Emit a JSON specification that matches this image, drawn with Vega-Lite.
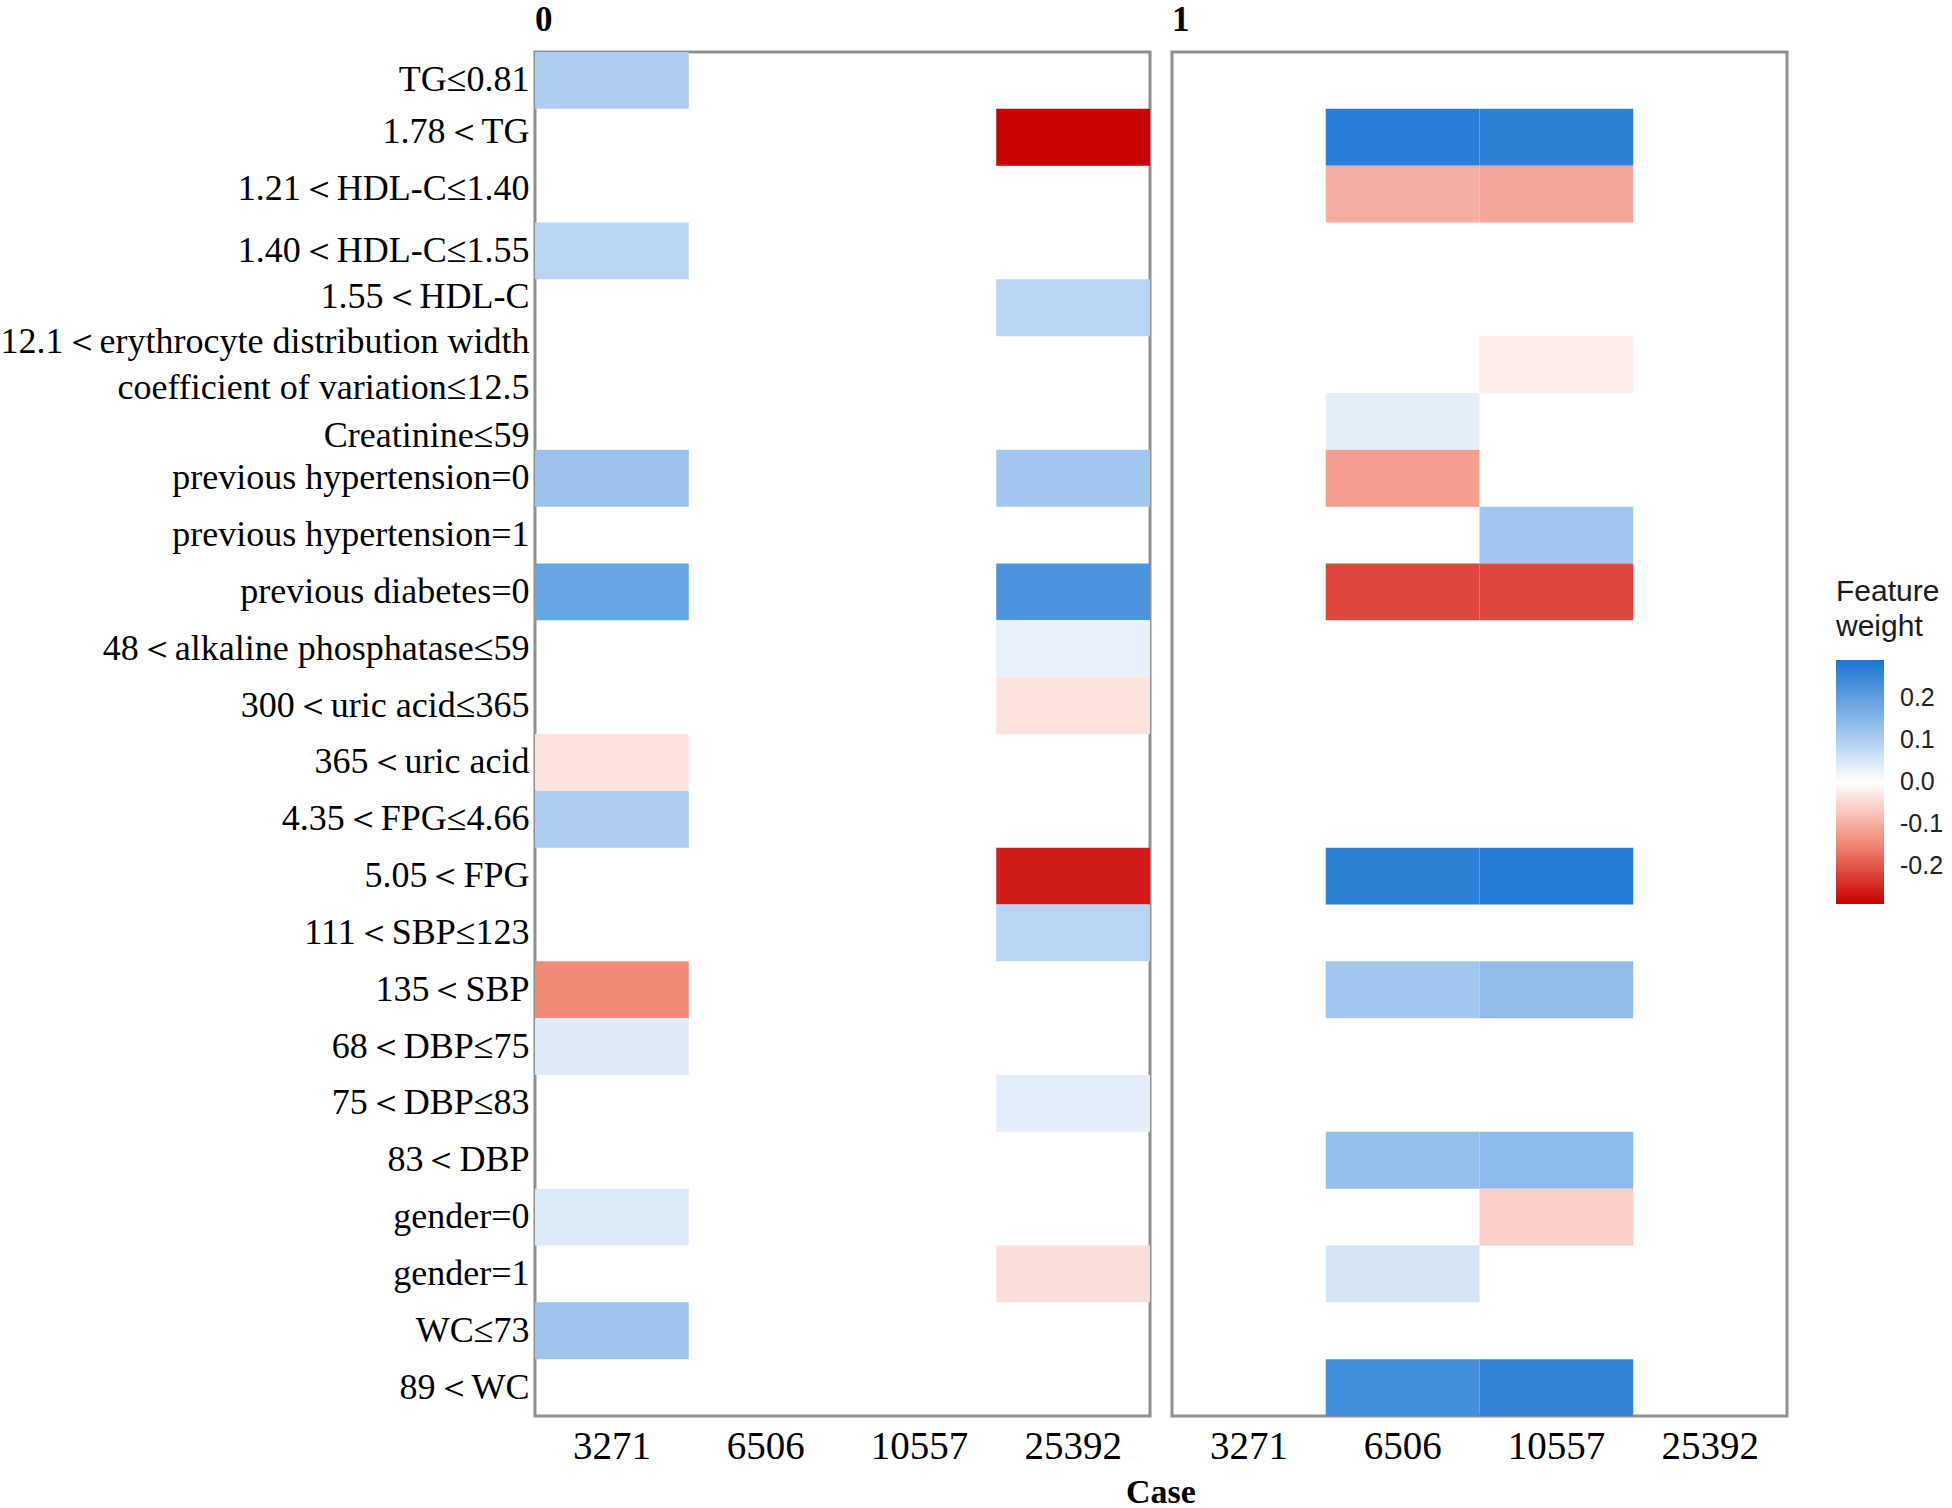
{
  "$schema": "https://vega.github.io/schema/vega-lite/v6.json",
  "background": "white",
  "padding": {"left": 0, "top": 3, "right": 5, "bottom": 0},
  "data": {
    "values": [
      {"label": "0", "case": "3271", "feature": "TG≤0.81", "weight": 0.1},
      {"label": "0", "case": "25392", "feature": "1.78＜TG", "weight": -0.285},
      {"label": "0", "case": "3271", "feature": "1.40＜HDL-C≤1.55", "weight": 0.085},
      {"label": "0", "case": "25392", "feature": "1.55＜HDL-C", "weight": 0.085},
      {"label": "0", "case": "3271", "feature": "previous hypertension=0", "weight": 0.125},
      {"label": "0", "case": "25392", "feature": "previous hypertension=0", "weight": 0.115},
      {"label": "0", "case": "3271", "feature": "previous diabetes=0", "weight": 0.19},
      {"label": "0", "case": "25392", "feature": "previous diabetes=0", "weight": 0.225},
      {"label": "0", "case": "25392", "feature": "48＜alkaline phosphatase≤59", "weight": 0.03},
      {"label": "0", "case": "25392", "feature": "300＜uric acid≤365", "weight": -0.035},
      {"label": "0", "case": "3271", "feature": "365＜uric acid", "weight": -0.035},
      {"label": "0", "case": "3271", "feature": "4.35＜FPG≤4.66", "weight": 0.1},
      {"label": "0", "case": "25392", "feature": "5.05＜FPG", "weight": -0.26},
      {"label": "0", "case": "25392", "feature": "111＜SBP≤123", "weight": 0.085},
      {"label": "0", "case": "3271", "feature": "135＜SBP", "weight": -0.145},
      {"label": "0", "case": "3271", "feature": "68＜DBP≤75", "weight": 0.04},
      {"label": "0", "case": "25392", "feature": "75＜DBP≤83", "weight": 0.035},
      {"label": "0", "case": "3271", "feature": "gender=0", "weight": 0.042},
      {"label": "0", "case": "25392", "feature": "gender=1", "weight": -0.04},
      {"label": "0", "case": "3271", "feature": "WC≤73", "weight": 0.12},
      {"label": "1", "case": "6506", "feature": "1.78＜TG", "weight": 0.27},
      {"label": "1", "case": "10557", "feature": "1.78＜TG", "weight": 0.265},
      {"label": "1", "case": "6506", "feature": "1.21＜HDL-C≤1.40", "weight": -0.1},
      {"label": "1", "case": "10557", "feature": "1.21＜HDL-C≤1.40", "weight": -0.11},
      {"label": "1", "case": "10557", "feature": "12.1＜erythrocyte distribution width\ncoefficient of variation≤12.5", "weight": -0.025},
      {"label": "1", "case": "6506", "feature": "Creatinine≤59", "weight": 0.033},
      {"label": "1", "case": "6506", "feature": "previous hypertension=0", "weight": -0.12},
      {"label": "1", "case": "10557", "feature": "previous hypertension=1", "weight": 0.115},
      {"label": "1", "case": "6506", "feature": "previous diabetes=0", "weight": -0.215},
      {"label": "1", "case": "10557", "feature": "previous diabetes=0", "weight": -0.215},
      {"label": "1", "case": "6506", "feature": "5.05＜FPG", "weight": 0.265},
      {"label": "1", "case": "10557", "feature": "5.05＜FPG", "weight": 0.275},
      {"label": "1", "case": "6506", "feature": "135＜SBP", "weight": 0.115},
      {"label": "1", "case": "10557", "feature": "135＜SBP", "weight": 0.135},
      {"label": "1", "case": "6506", "feature": "83＜DBP", "weight": 0.13},
      {"label": "1", "case": "10557", "feature": "83＜DBP", "weight": 0.14},
      {"label": "1", "case": "10557", "feature": "gender=0", "weight": -0.06},
      {"label": "1", "case": "6506", "feature": "gender=1", "weight": 0.055},
      {"label": "1", "case": "6506", "feature": "89＜WC", "weight": 0.235},
      {"label": "1", "case": "10557", "feature": "89＜WC", "weight": 0.26}
    ]
  },
  "facet": {
    "column": {
      "field": "label",
      "type": "nominal",
      "title": "Case",
      "header": {
        "labelOrient": "top",
        "titleOrient": "bottom",
        "labelFont": "Liberation Serif",
        "labelFontWeight": "bold",
        "labelFontSize": 35,
        "labelColor": "black",
        "labelAnchor": "start",
        "labelExpr": "'\u2800\u2800\u2800' + datum.label",
        "labelPadding": 12,
        "titleFont": "Liberation Serif",
        "titleFontWeight": "bold",
        "titleFontSize": 34,
        "titleColor": "black",
        "titlePadding": 0
      }
    }
  },
  "spacing": 18,
  "spec": {
    "width": 615,
    "height": 1364,
    "mark": {"type": "rect"},
    "encoding": {
      "x": {
        "field": "case",
        "type": "nominal",
        "scale": {"domain": ["3271", "6506", "10557", "25392"], "paddingInner": 0, "paddingOuter": 0},
        "axis": {
          "title": null,
          "labelAngle": 0,
          "labelFont": "Liberation Serif",
          "labelFontSize": 39,
          "labelColor": "black",
          "ticks": false,
          "domain": false,
          "labelPadding": 9
        }
      },
      "y": {
        "field": "feature",
        "type": "nominal",
        "sort": [
          "TG≤0.81",
          "1.78＜TG",
          "1.21＜HDL-C≤1.40",
          "1.40＜HDL-C≤1.55",
          "1.55＜HDL-C",
          "12.1＜erythrocyte distribution width\ncoefficient of variation≤12.5",
          "Creatinine≤59",
          "previous hypertension=0",
          "previous hypertension=1",
          "previous diabetes=0",
          "48＜alkaline phosphatase≤59",
          "300＜uric acid≤365",
          "365＜uric acid",
          "4.35＜FPG≤4.66",
          "5.05＜FPG",
          "111＜SBP≤123",
          "135＜SBP",
          "68＜DBP≤75",
          "75＜DBP≤83",
          "83＜DBP",
          "gender=0",
          "gender=1",
          "WC≤73",
          "89＜WC"
        ],
        "scale": {"paddingInner": 0, "paddingOuter": 0},
        "axis": {
          "title": null,
          "ticks": false,
          "domain": false,
          "labelFont": "Liberation Serif",
          "labelFontSize": 36,
          "labelColor": "black",
          "labelPadding": 4,
          "labelLimit": 0,
          "labelLineHeight": 46,
          "labelOffset": {
            "condition": [
              {"test": "indexof(datum.value, '\\n') >= 0", "value": -23},
              {"test": "datum.value === '1.55＜HDL-C'", "value": -11},
              {"test": "datum.value === 'Creatinine≤59'", "value": 15},
              {"test": "datum.value === '1.78＜TG' || datum.value === '1.21＜HDL-C≤1.40'", "value": -5}
            ],
            "value": 0
          },
          "labelExpr": "split(datum.label, '\\n')"
        }
      },
      "color": {
        "field": "weight",
        "type": "quantitative",
        "scale": {
          "domain": [-0.29, -0.145, 0, 0.145, 0.29],
          "range": ["#c80000", "#f28a78", "#ffffff", "#8ab8ea", "#1a76d2"],
          "interpolate": "rgb"
        },
        "legend": {
          "orient": "none",
          "legendX": 1301,
          "legendY": 525,
          "direction": "vertical",
          "title": ["Feature", "weight"],
          "titleFont": "Liberation Sans",
          "titleFontSize": 30,
          "titleFontWeight": "normal",
          "titleColor": "#1a1a1a",
          "titleLineHeight": 35,
          "titlePadding": 18,
          "gradientLength": 244,
          "gradientThickness": 48,
          "gradientStrokeWidth": 0,
          "values": [0.2, 0.1, 0, -0.1, -0.2],
          "labelFont": "Liberation Sans",
          "labelFontSize": 25,
          "labelColor": "#222222",
          "labelOffset": 16,
          "labelExpr": "datum.value < 0 ? '-' + format(-datum.value, '.1f') : format(datum.value, '.1f')"
        }
      }
    }
  },
  "config": {
    "view": {"stroke": "#8f8f8f", "strokeWidth": 3}
  }
}
